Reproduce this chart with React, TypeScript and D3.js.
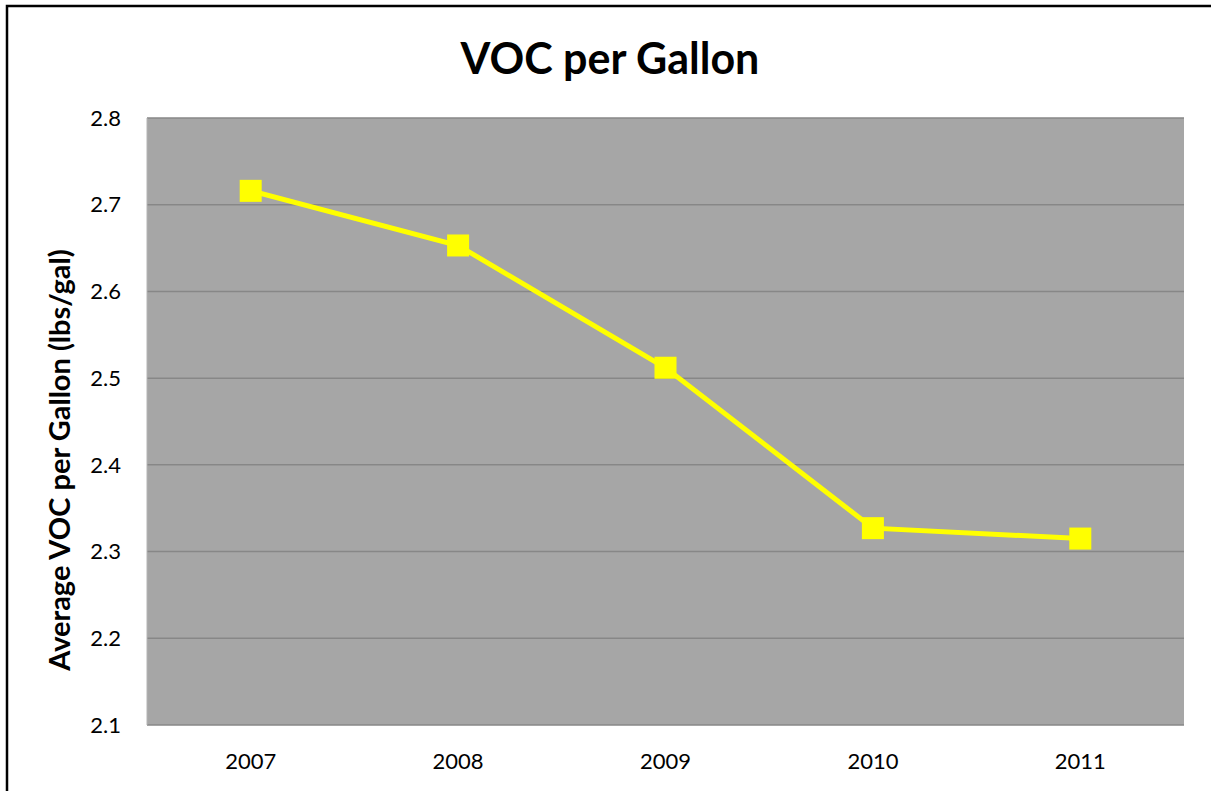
import React from 'react';
import * as d3 from 'd3';

const years = ['2007', '2008', '2009', '2010', '2011'];
const vocValues = [2.716, 2.653, 2.512, 2.327, 2.315];
const yTicks = [2.1, 2.2, 2.3, 2.4, 2.5, 2.6, 2.7, 2.8];

const W = 1211;
const H = 791;
const plot = { left: 147, top: 118, right: 1184, bottom: 725 };
const font = 'Lato, "Open Sans", sans-serif';

const App = () => {
  const x = d3.scaleBand().domain(years).range([plot.left, plot.right]);
  const y = d3.scaleLinear().domain([2.1, 2.8]).range([plot.bottom, plot.top]);
  const points = years.map((yr, i) => ({ yr, v: vocValues[i] }));
  const line = d3
    .line<{ yr: string; v: number }>()
    .x(d => (x(d.yr) as number) + x.bandwidth() / 2)
    .y(d => y(d.v));
  const fmt = d3.format('.1f');
  const sq = 22;

  return (
    <svg width={W} height={H} style={{ position: 'absolute', left: 0, top: 0, background: '#fff' }}>
      <rect x={7} y={6} width={W + 10} height={H + 10} fill="#fff" stroke="#000" strokeWidth={2.5} />
      <text x={610} y={74} textAnchor="middle" fontFamily={font} fontWeight="bold" fontSize={43} fill="#000">
        VOC per Gallon
      </text>
      <rect
        x={plot.left}
        y={plot.top}
        width={plot.right - plot.left}
        height={plot.bottom - plot.top}
        fill="#a6a6a6"
      />
      {yTicks.map(t => (
        <g key={t}>
          <line x1={plot.left} x2={plot.right} y1={y(t)} y2={y(t)} stroke="#878787" strokeWidth={1.5} />
          <text x={121} y={y(t)} dy="0.35em" textAnchor="end" fontFamily={font} fontSize={22} fill="#000">
            {fmt(t)}
          </text>
        </g>
      ))}
      <line x1={plot.left} x2={plot.left} y1={plot.top} y2={plot.bottom} stroke="#b4b4b4" strokeWidth={1} />
      {years.map(yr => (
        <text
          key={yr}
          x={(x(yr) as number) + x.bandwidth() / 2}
          y={761}
          dy="0.35em"
          textAnchor="middle"
          fontFamily={font}
          fontSize={22}
          fill="#000"
        >
          {yr}
        </text>
      ))}
      <text
        transform={`translate(60, 460) rotate(-90)`}
        textAnchor="middle"
        dy="0.35em"
        fontFamily={font}
        fontWeight="bold"
        fontSize={29}
        fill="#000"
      >
        Average VOC per Gallon (lbs/gal)
      </text>
      <path d={line(points) || ''} fill="none" stroke="#ffff00" strokeWidth={5} />
      {points.map(p => (
        <rect
          key={p.yr}
          x={(x(p.yr) as number) + x.bandwidth() / 2 - sq / 2}
          y={y(p.v) - sq / 2}
          width={sq}
          height={sq}
          fill="#ffff00"
        />
      ))}
    </svg>
  );
};

export default App;
